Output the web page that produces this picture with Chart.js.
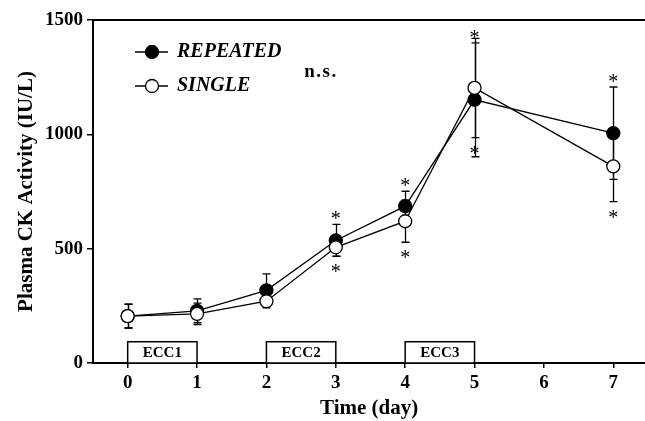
<!DOCTYPE html>
<html>
<head>
<meta charset="utf-8">
<script src="https://cdn.jsdelivr.net/npm/chart.js@4.4.0/dist/chart.umd.min.js"></script>
<style>
  html, body { margin: 0; padding: 0; background: #fff; overflow: hidden; }
  #wrap { width: 653px; height: 421px; position: relative; }
  #myChart { display: block; }
</style>
</head>
<body>
<div id="wrap"><canvas id="myChart"></canvas></div>
<script>
// values (mean and SD, IU/L)
const days = [0, 1, 2, 3, 4, 5, 7];
const repeatedMean = [205, 228, 318, 536, 686, 1151, 1005];
const repeatedSD = [52, 52, 72, 70, 65, 249, 202];
const singleMean = [205, 215, 270, 506, 620, 1203, 860];
const singleSD = [52, 47, 29, 39, 92, 217, 154];
const repeatedSig = [false, false, false, true, true, true, true];
const singleSig = [false, false, false, true, true, true, true];

const xTicks = [0, 1, 2, 3, 4, 5, 6, 7];
const yTicks = [0, 500, 1000, 1500];

// eccentric exercise bouts
const eccLabels = ["ECC1", "ECC2", "ECC3"];
const eccStart = [0, 2, 4];
const eccEnd = [1, 3, 5];
const eccTop = 93;

const serif = "'Liberation Serif', 'Times New Roman', serif";

function toPoints(mean) {
    return days.map((d, i) => ({ x: d, y: mean[i] }));
}

// error bars, asterisks, ECC boxes, legend, frame
const extras = {
    id: "extras",
    beforeDatasetsDraw(chart) {
        const ctx = chart.ctx;
        const xs = chart.scales.x, ys = chart.scales.y;
        ctx.save();
        ctx.strokeStyle = "#000";
        ctx.lineWidth = 1.3;
        const bars = [[repeatedMean, repeatedSD], [singleMean, singleSD]];
        bars.forEach(([mean, sd]) => {
            days.forEach((d, i) => {
                const px = Math.round(xs.getPixelForValue(d)) + 0.5;
                const top = ys.getPixelForValue(mean[i] + sd[i]);
                const bot = ys.getPixelForValue(mean[i] - sd[i]);
                ctx.beginPath();
                ctx.moveTo(px, top); ctx.lineTo(px, bot);
                ctx.moveTo(px - 4, top); ctx.lineTo(px + 4, top);
                ctx.moveTo(px - 4, bot); ctx.lineTo(px + 4, bot);
                ctx.stroke();
            });
        });
        ctx.restore();
    },
    afterDatasetsDraw(chart) {
        const ctx = chart.ctx;
        const xs = chart.scales.x, ys = chart.scales.y;
        const area = chart.chartArea;
        ctx.save();

        // top frame line
        ctx.strokeStyle = "#000";
        ctx.lineWidth = 2;
        ctx.beginPath();
        ctx.moveTo(area.left, area.top);
        ctx.lineTo(area.right, area.top);
        ctx.stroke();

        // asterisks
        ctx.fillStyle = "#000";
        ctx.font = "20px " + serif;
        ctx.textAlign = "center";
        ctx.textBaseline = "alphabetic";
        days.forEach((d, i) => {
            const px = xs.getPixelForValue(d);
            if (repeatedSig[i]) {
                const y = ys.getPixelForValue(repeatedMean[i] + repeatedSD[i]) - 9;
                ctx.fillText("*", px, y + 10);
            }
            if (singleSig[i]) {
                const y = ys.getPixelForValue(singleMean[i] - singleSD[i]) + 12;
                ctx.fillText("*", px, y + 10);
            }
        });

        // ECC boxes
        ctx.lineWidth = 1.5;
        ctx.font = "bold 15px " + serif;
        ctx.textBaseline = "middle";
        eccLabels.forEach((lab, i) => {
            const x0 = xs.getPixelForValue(eccStart[i]);
            const x1 = xs.getPixelForValue(eccEnd[i]);
            const y0 = ys.getPixelForValue(0);
            const y1 = ys.getPixelForValue(eccTop);
            ctx.fillStyle = "#fff";
            ctx.fillRect(x0, y1, x1 - x0, y0 - y1);
            ctx.strokeRect(x0, y1, x1 - x0, y0 - y1);
            ctx.fillStyle = "#000";
            ctx.fillText(lab, (x0 + x1) / 2, (y0 + y1) / 2 + 1);
        });

        // legend
        const items = [
            { label: "REPEATED", fill: "#000", y: 52 },
            { label: "SINGLE", fill: "#fff", y: 86 }
        ];
        items.forEach(it => {
            ctx.lineWidth = 1.3;
            ctx.beginPath();
            ctx.moveTo(135, it.y); ctx.lineTo(168, it.y);
            ctx.stroke();
            ctx.beginPath();
            ctx.arc(152, it.y, 6.5, 0, Math.PI * 2);
            ctx.fillStyle = it.fill;
            ctx.fill();
            ctx.stroke();
            ctx.fillStyle = "#000";
            ctx.font = "italic bold 20px " + serif;
            ctx.textAlign = "left";
            ctx.fillText(it.label, 177, it.y);
        });

        ctx.font = "bold 19px " + serif;
        ctx.letterSpacing = "1.5px";
        ctx.textAlign = "center";
        ctx.fillText("n.s.", 321, 72);
        ctx.restore();
    }
};

const ctx = document.getElementById("myChart").getContext("2d");
new Chart(ctx, {
    type: "scatter",
    data: {
        datasets: [
            {
                label: "REPEATED",
                data: toPoints(repeatedMean),
                showLine: true,
                borderColor: "#000",
                borderWidth: 1.3,
                pointBackgroundColor: "#000",
                pointBorderColor: "#000",
                pointBorderWidth: 1.3,
                pointRadius: 6.5,
                order: 1
            },
            {
                label: "SINGLE",
                data: toPoints(singleMean),
                showLine: true,
                borderColor: "#000",
                borderWidth: 1.3,
                pointBackgroundColor: "#fff",
                pointBorderColor: "#000",
                pointBorderWidth: 1.3,
                pointRadius: 6.5,
                order: 0
            }
        ]
    },
    options: {
        responsive: true,
        maintainAspectRatio: false,
        animation: false,
        layout: { padding: { top: 20, right: 0, left: 0, bottom: 0 } },
        plugins: {
            legend: { display: false },
            tooltip: { enabled: false }
        },
        scales: {
            x: {
                type: "linear",
                min: -0.5,
                max: 7.46,
                afterBuildTicks: s => { s.ticks = xTicks.map(v => ({ value: v })); },
                afterFit: s => { s.height = 58; },
                grid: { drawOnChartArea: false, drawTicks: true, tickLength: 5, color: "#000", lineWidth: 1.5 },
                border: { display: true, color: "#000", width: 2 },
                ticks: {
                    color: "#000",
                    padding: 4,
                    callback: v => String(v),
                    font: { family: serif, size: 19, weight: "bold" }
                },
                title: {
                    display: true,
                    text: "Time (day)",
                    color: "#000",
                    padding: { top: 0, bottom: 0 },
                    font: { family: serif, size: 21, weight: "bold" }
                }
            },
            y: {
                min: 0,
                max: 1500,
                afterBuildTicks: s => { s.ticks = yTicks.map(v => ({ value: v })); },
                afterFit: s => { s.width = 93; },
                grid: { drawOnChartArea: false, drawTicks: true, tickLength: 6, color: "#000", lineWidth: 1.5 },
                border: { display: true, color: "#000", width: 2 },
                ticks: {
                    color: "#000",
                    padding: 4,
                    callback: v => String(v),
                    font: { family: serif, size: 19, weight: "bold" }
                },
                title: {
                    display: true,
                    text: "Plasma CK Activity (IU/L)",
                    color: "#000",
                    padding: { top: 14, bottom: 0 },
                    font: { family: serif, size: 21, weight: "bold" }
                }
            }
        }
    },
    plugins: [extras]
});
</script>
</body>
</html>
